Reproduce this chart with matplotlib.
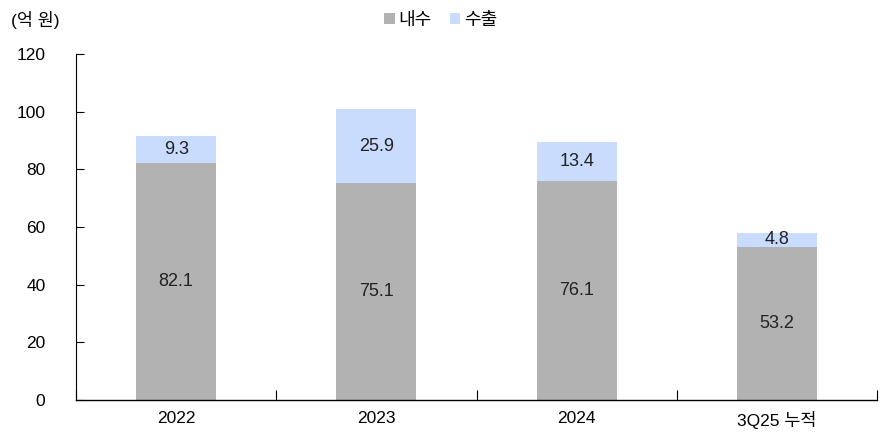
import matplotlib
matplotlib.use('Agg')
import matplotlib.pyplot as plt
import numpy as np

plt.rcParams['font.family'] = ['Liberation Sans', 'Noto Sans CJK KR', 'DejaVu Sans']

categories = ['2022', '2023', '2024', '3Q25 누적']
domestic = [82.1, 75.1, 76.1, 53.2]
export = [9.3, 25.9, 13.4, 4.8]

gray = '#b2b2b2'
blue = '#c9dcfd'

fig = plt.figure(figsize=(8.81, 4.37), dpi=100)
ax = fig.add_axes([0.0863, 0.0847, 0.9092, 0.7918])

x = np.arange(len(categories))
b1 = ax.bar(x, domestic, width=0.4, color=gray, label='내수')
b2 = ax.bar(x, export, width=0.4, bottom=domestic, color=blue, label='수출')

for i in range(len(x)):
    ax.text(x[i], domestic[i] / 2, f'{domestic[i]:.1f}', ha='center', va='center',
            fontsize=13, color='#222222')
    ax.text(x[i], domestic[i] + export[i] / 2, f'{export[i]:.1f}', ha='center', va='center',
            fontsize=13, color='#222222')

ax.set_xlim(-0.5, len(x) - 0.5)
ax.set_ylim(0, 120)
ax.set_yticks(range(0, 121, 20))
ax.set_xticks(x)
ax.set_xticklabels(categories, fontsize=12.5)
ax.tick_params(axis='x', length=0, pad=8)
ax.set_xticks(np.arange(-0.5, len(x), 1.0), minor=True)
ax.tick_params(axis='x', which='minor', direction='in', length=7, width=0.8)
ax.tick_params(axis='y', direction='in', length=6, width=0.8, labelsize=12.5, pad=22)

for s in ['top', 'right']:
    ax.spines[s].set_visible(False)
ax.spines['left'].set_linewidth(0.8)
ax.spines['bottom'].set_linewidth(1.0)

fig.text(0.012, 0.955, '(억 원)', fontsize=12.5, va='center', ha='left')
fig.legend(handles=[b1, b2], loc='center', bbox_to_anchor=(0.5, 0.953), ncol=2,
           frameon=False, fontsize=13, handlelength=0.6, handleheight=0.6,
           handletextpad=0.2, columnspacing=1.0)

fig.savefig('out.png', dpi=100)
